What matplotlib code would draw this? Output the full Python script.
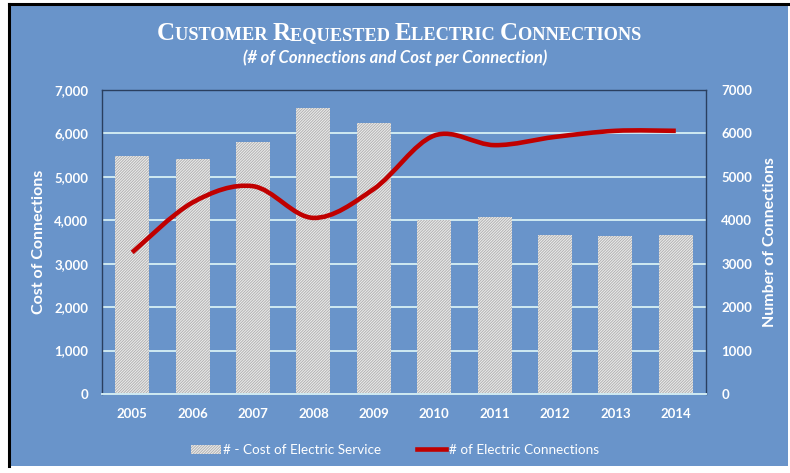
import matplotlib
matplotlib.use("Agg")
import matplotlib.pyplot as plt
from matplotlib.path import Path
from matplotlib.patches import PathPatch, Rectangle
from matplotlib.lines import Line2D
from matplotlib.offsetbox import TextArea, HPacker, AnchoredOffsetbox

years = ["2005", "2006", "2007", "2008", "2009", "2010", "2011", "2012", "2013", "2014"]
cost_of_service = [5480, 5400, 5810, 6590, 6240, 4000, 4075, 3660, 3630, 3665]
connections = [3260, 4410, 4785, 4055, 4720, 5950, 5730, 5920, 6060, 6060]
left_ticks = [0, 1000, 2000, 3000, 4000, 5000, 6000, 7000]

BLUE = "#6994ca"
WHITE = "#ffffff"
RED = "#c00000"
GRID = "#cfeaf2"
BAR_FACE = "#ededed"
BAR_HATCH = "#b2b2b2"
HATCH = "////////////"

plt.rcParams["font.family"] = ["Lato", "DejaVu Sans"]
plt.rcParams["hatch.linewidth"] = 0.7

fig = plt.figure(figsize=(7.9, 4.73), dpi=100)
fig.patch.set_facecolor("white")

# blue panel with black frame at top/left
fig.patches.append(Rectangle((9 / 790, 1 - 466 / 473), 779 / 790, 462 / 473,
                             transform=fig.transFigure, facecolor=BLUE,
                             edgecolor="none", zorder=-5))
fig.add_artist(Line2D([9 / 790, 9 / 790], [1 - 466 / 473, 1 - 4 / 473],
                      transform=fig.transFigure, color="black", lw=2.2))
fig.add_artist(Line2D([9 / 790, 788 / 790], [1 - 4 / 473, 1 - 4 / 473],
                      transform=fig.transFigure, color="black", lw=2.2))

ax = fig.add_axes([102 / 790, 1 - 394 / 473, 604 / 790, 304 / 473])
ax.set_facecolor(BLUE)
x = list(range(len(years)))
ax.bar(x, cost_of_service, width=0.56, color=BAR_FACE, edgecolor=BAR_HATCH,
       hatch=HATCH, linewidth=0, zorder=2, label="# - Cost of Electric Service")
ax.set_xlim(-0.5, len(years) - 0.5)
ax.set_ylim(0, 7000)
ax.set_yticks(left_ticks)
ax.set_yticklabels([f"{v:,}" for v in left_ticks])
ax.set_xticks(x)
ax.set_xticklabels(years)
ax.grid(axis="y", color=GRID, lw=1.4, zorder=1)
ax.set_axisbelow(True)
ax.tick_params(length=0, colors=WHITE, labelsize=9.5)
ax.tick_params(axis="y", pad=10)
ax.tick_params(axis="x", pad=10)
for lbl in ax.get_xticklabels() + ax.get_yticklabels():
    lbl.set_fontweight("bold")
for side in ["top", "left", "right"]:
    ax.spines[side].set_color("#2a3f5f")
    ax.spines[side].set_linewidth(1.0)
ax.spines["bottom"].set_color(GRID)
ax.spines["bottom"].set_linewidth(1.4)
ax.set_ylabel("Cost of Connections", color=WHITE, fontsize=11.5, fontweight="bold", labelpad=6)

ax2 = ax.twinx()
ax2.set_ylim(0, 7000)
ax2.set_yticks(left_ticks)
ax2.set_yticklabels([str(v) for v in left_ticks])
ax2.tick_params(length=0, colors=WHITE, labelsize=9.5, pad=11)
for lbl in ax2.get_yticklabels():
    lbl.set_fontweight("bold")
for side in ax2.spines:
    ax2.spines[side].set_visible(False)
ax2.set_ylabel("Number of Connections", color=WHITE, fontsize=11.5, fontweight="bold", labelpad=8)

# smoothed line (Excel style Bezier)
pts = list(zip(x, connections))
verts = [pts[0]]
codes = [Path.MOVETO]
for i in range(len(pts) - 1):
    p0 = pts[i - 1] if i > 0 else pts[i]
    p1 = pts[i]
    p2 = pts[i + 1]
    p3 = pts[i + 2] if i + 2 < len(pts) else pts[i + 1]
    c1 = (p1[0] + (p2[0] - p0[0]) / 6, p1[1] + (p2[1] - p0[1]) / 6)
    c2 = (p2[0] - (p3[0] - p1[0]) / 6, p2[1] - (p3[1] - p1[1]) / 6)
    verts += [c1, c2, p2]
    codes += [Path.CURVE4] * 3
ax2.add_patch(PathPatch(Path(verts, codes), fill=False, edgecolor=RED, lw=3.3,
                        capstyle="butt", joinstyle="round", zorder=3))

# title in small caps
parts = []
for word in ["Customer", "Requested", "Electric", "Connections"]:
    parts.append(TextArea(word[0].upper(), textprops=dict(color=WHITE, size=18, weight="bold",
                                                          family="Liberation Serif")))
    parts.append(TextArea(word[1:].upper() + " ", textprops=dict(color=WHITE, size=13.2,
                                                                 weight="bold",
                                                                 family="Liberation Serif")))
title_box = HPacker(children=parts, align="baseline", pad=0, sep=0)
anchored = AnchoredOffsetbox(loc="center", child=title_box, frameon=False,
                             bbox_to_anchor=(0.508, 1 - 34 / 473),
                             bbox_transform=fig.transFigure, pad=0, borderpad=0)
fig.add_artist(anchored)

fig.text(0.5, 1 - 58 / 473, "(# of Connections and Cost per Connection)",
         color=WHITE, fontsize=12, fontweight="bold", fontstyle="italic",
         ha="center", va="center")

handles = [
    Rectangle((0, 0), 1, 1, facecolor=BAR_FACE, edgecolor=BAR_HATCH, hatch=HATCH, lw=0),
    Line2D([0], [0], color=RED, lw=3.3),
]
fig.legend(handles, ["# - Cost of Electric Service", "# of Electric Connections"],
           loc="center", bbox_to_anchor=(0.5, 1 - 450 / 473), ncol=2, frameon=False,
           fontsize=9.7, labelcolor=WHITE, handlelength=2.2, handletextpad=0.2,
           columnspacing=2.6)

fig.savefig("out.png", dpi=100, facecolor=fig.get_facecolor())
